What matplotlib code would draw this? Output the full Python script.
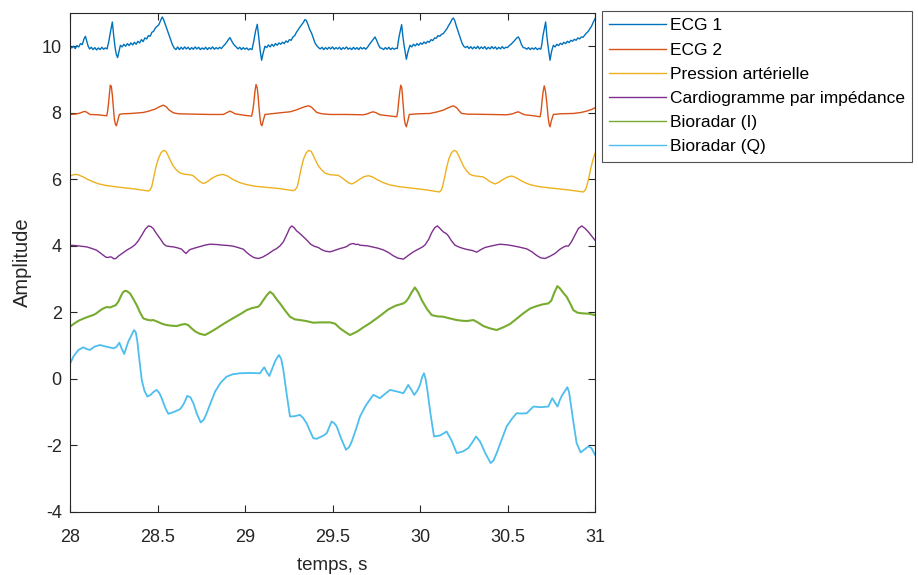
import matplotlib
matplotlib.use("Agg")
import matplotlib.pyplot as plt

plt.rcParams['font.family'] = ['Liberation Sans', 'DejaVu Sans']
plt.rcParams['axes.unicode_minus'] = False

# ---- data (time in s, amplitude) ----
ecg1_t = [28.000, 28.010, 28.020, 28.030, 28.040, 28.050, 28.060, 28.070, 28.080, 28.088, 28.096, 28.104,
          28.112, 28.122, 28.132, 28.142, 28.152, 28.162, 28.172, 28.182, 28.192, 28.202, 28.212, 28.222,
          28.230, 28.242, 28.250, 28.258, 28.265, 28.272, 28.280, 28.288, 28.298, 28.308, 28.318, 28.328,
          28.338, 28.348, 28.358, 28.368, 28.378, 28.388, 28.398, 28.408, 28.418, 28.428, 28.438, 28.448,
          28.458, 28.468, 28.478, 28.488, 28.498, 28.508, 28.518, 28.527, 28.535, 28.545, 28.555, 28.565,
          28.575, 28.585, 28.595, 28.605, 28.615, 28.625, 28.635, 28.645, 28.655, 28.665, 28.675, 28.685,
          28.695, 28.705, 28.715, 28.725, 28.735, 28.745, 28.755, 28.765, 28.775, 28.785, 28.795, 28.805,
          28.815, 28.825, 28.835, 28.845, 28.855, 28.865, 28.875, 28.885, 28.895, 28.905, 28.914, 28.922,
          28.930, 28.940, 28.950, 28.960, 28.970, 28.980, 28.990, 29.000, 29.010, 29.020, 29.030, 29.040,
          29.050, 29.060, 29.070, 29.078, 29.086, 29.095, 29.104, 29.114, 29.124, 29.134, 29.144, 29.154,
          29.164, 29.174, 29.184, 29.194, 29.204, 29.214, 29.224, 29.234, 29.244, 29.254, 29.264, 29.274,
          29.284, 29.294, 29.304, 29.314, 29.324, 29.334, 29.342, 29.350, 29.360, 29.370, 29.380, 29.390,
          29.400, 29.410, 29.420, 29.430, 29.440, 29.450, 29.460, 29.470, 29.480, 29.490, 29.500, 29.510,
          29.520, 29.530, 29.540, 29.550, 29.560, 29.570, 29.580, 29.590, 29.600, 29.610, 29.620, 29.630,
          29.640, 29.650, 29.660, 29.670, 29.680, 29.690, 29.700, 29.710, 29.720, 29.732, 29.743, 29.752,
          29.762, 29.772, 29.782, 29.792, 29.802, 29.812, 29.822, 29.832, 29.842, 29.852, 29.862, 29.870,
          29.876, 29.882, 29.895, 29.902, 29.909, 29.916, 29.922, 29.932, 29.943, 29.953, 29.963, 29.973,
          29.983, 29.993, 30.003, 30.013, 30.023, 30.033, 30.043, 30.053, 30.063, 30.073, 30.083, 30.093,
          30.103, 30.113, 30.123, 30.133, 30.143, 30.153, 30.163, 30.173, 30.182, 30.190, 30.198, 30.208,
          30.219, 30.230, 30.240, 30.250, 30.260, 30.270, 30.280, 30.290, 30.300, 30.310, 30.320, 30.330,
          30.340, 30.350, 30.360, 30.370, 30.380, 30.390, 30.400, 30.410, 30.420, 30.430, 30.440, 30.450,
          30.460, 30.470, 30.480, 30.490, 30.500, 30.510, 30.520, 30.533, 30.545, 30.555, 30.562, 30.570,
          30.580, 30.590, 30.600, 30.610, 30.620, 30.630, 30.640, 30.650, 30.660, 30.670, 30.680, 30.690,
          30.696, 30.703, 30.718, 30.725, 30.731, 30.737, 30.743, 30.752, 30.762, 30.772, 30.782, 30.792,
          30.802, 30.812, 30.822, 30.832, 30.842, 30.852, 30.862, 30.872, 30.882, 30.892, 30.902, 30.912,
          30.922, 30.932, 30.942, 30.952, 30.962, 30.971, 30.980, 30.990, 31.000]
ecg1_v = [9.98, 9.95, 10.00, 9.93, 10.02, 9.98, 10.08, 10.05, 10.22, 10.30, 10.15, 10.00,
          9.92, 9.97, 9.90, 9.96, 9.89, 9.95, 9.90, 9.97, 9.91, 9.95, 9.92, 10.15,
          10.40, 10.73, 10.30, 9.95, 9.75, 9.66, 9.85, 10.03, 9.98, 10.06, 10.00, 10.08,
          10.02, 10.10, 10.04, 10.12, 10.06, 10.15, 10.10, 10.20, 10.14, 10.25, 10.22, 10.32,
          10.30, 10.42, 10.45, 10.55, 10.60, 10.65, 10.78, 10.88, 10.80, 10.65, 10.50, 10.35,
          10.20, 10.05, 9.95, 9.90, 9.98, 9.90, 9.97, 9.91, 9.98, 9.92, 9.97, 9.90,
          9.96, 9.91, 9.98, 9.92, 9.97, 9.90, 9.95, 9.91, 9.97, 9.90, 9.96, 9.92,
          9.98, 9.91, 9.96, 9.92, 9.97, 9.93, 10.00, 10.05, 10.12, 10.20, 10.26, 10.18,
          10.10, 10.03, 9.98, 9.92, 9.97, 9.90, 9.96, 9.91, 9.95, 9.89, 9.93, 9.90,
          10.15, 10.45, 10.66, 10.30, 9.90, 9.58, 9.80, 10.00, 9.96, 10.04, 9.98, 10.06,
          10.00, 10.08, 10.03, 10.10, 10.06, 10.12, 10.08, 10.16, 10.12, 10.20, 10.18, 10.28,
          10.32, 10.42, 10.50, 10.58, 10.65, 10.72, 10.80, 10.78, 10.65, 10.50, 10.40, 10.25,
          10.10, 10.02, 9.96, 9.92, 9.97, 9.90, 9.96, 9.91, 9.97, 9.92, 9.98, 9.91,
          9.96, 9.92, 9.97, 9.90, 9.96, 9.92, 9.98, 9.91, 9.95, 9.90, 9.97, 9.91,
          9.96, 9.90, 9.97, 9.92, 9.96, 9.91, 9.97, 10.05, 10.12, 10.20, 10.28, 10.18,
          10.05, 9.95, 9.94, 9.90, 9.96, 9.91, 9.97, 9.90, 9.95, 9.91, 9.94, 9.93,
          10.15, 10.33, 10.65, 10.30, 10.03, 9.80, 9.61, 9.85, 10.03, 9.98, 10.06, 10.01,
          10.08, 10.03, 10.10, 10.06, 10.13, 10.08, 10.15, 10.12, 10.20, 10.17, 10.25, 10.24,
          10.32, 10.30, 10.36, 10.38, 10.45, 10.52, 10.62, 10.70, 10.80, 10.85, 10.78, 10.60,
          10.43, 10.25, 10.10, 10.00, 9.96, 10.00, 9.93, 9.99, 9.92, 9.98, 9.93, 10.00,
          9.92, 9.98, 9.93, 9.99, 9.91, 9.97, 9.92, 9.99, 9.93, 9.98, 9.91, 9.97,
          9.92, 9.99, 9.93, 9.97, 9.96, 10.02, 10.06, 10.13, 10.20, 10.26, 10.28, 10.20,
          10.05, 9.96, 9.95, 9.91, 9.96, 9.90, 9.95, 9.91, 9.96, 9.90, 9.94, 9.91,
          10.05, 10.33, 10.73, 10.30, 10.03, 9.80, 9.58, 9.85, 10.03, 9.98, 10.06, 10.02,
          10.09, 10.05, 10.12, 10.08, 10.15, 10.11, 10.18, 10.15, 10.21, 10.18, 10.25, 10.22,
          10.28, 10.27, 10.34, 10.40, 10.45, 10.53, 10.60, 10.72, 10.83]

ecg2_t = [28.0, 28.030, 28.048, 28.062, 28.075, 28.086, 28.098, 28.114, 28.160, 28.210, 28.215, 28.219,
          28.225, 28.230, 28.236, 28.242, 28.248, 28.253, 28.259, 28.265, 28.272, 28.282, 28.300, 28.350,
          28.419, 28.450, 28.486, 28.510, 28.533, 28.550, 28.565, 28.590, 28.620, 28.700, 28.800, 28.876,
          28.895, 28.914, 28.930, 28.943, 28.990, 29.038, 29.045, 29.051, 29.057, 29.063, 29.070, 29.076,
          29.081, 29.086, 29.091, 29.097, 29.105, 29.114, 29.150, 29.200, 29.257, 29.290, 29.314, 29.340,
          29.362, 29.380, 29.395, 29.410, 29.440, 29.486, 29.580, 29.676, 29.700, 29.718, 29.733, 29.750,
          29.771, 29.820, 29.867, 29.873, 29.878, 29.884, 29.890, 29.896, 29.901, 29.906, 29.910, 29.916,
          29.922, 29.930, 29.939, 29.990, 30.057, 30.100, 30.133, 30.165, 30.190, 30.210, 30.225, 30.238,
          30.270, 30.400, 30.495, 30.530, 30.548, 30.562, 30.580, 30.600, 30.650, 30.686, 30.692, 30.697,
          30.703, 30.710, 30.717, 30.724, 30.729, 30.733, 30.738, 30.743, 30.750, 30.762, 30.800, 30.876,
          30.920, 30.952, 30.980, 31.0]
ecg2_v = [7.95, 7.96, 7.98, 8.00, 8.03, 8.04, 8.01, 7.95, 7.94, 7.91, 8.05, 8.23,
          8.55, 8.83, 8.80, 8.53, 8.15, 7.83, 7.66, 7.61, 7.75, 7.95, 7.97, 7.98,
          8.01, 8.05, 8.11, 8.18, 8.23, 8.18, 8.09, 8.00, 7.97, 7.96, 7.95, 7.95,
          8.00, 8.05, 8.01, 7.97, 7.93, 7.90, 8.08, 8.33, 8.65, 8.85, 8.75, 8.43,
          8.10, 7.83, 7.66, 7.61, 7.78, 7.95, 7.97, 8.00, 8.03, 8.08, 8.13, 8.18,
          8.21, 8.17, 8.09, 8.01, 7.97, 7.95, 7.95, 7.94, 7.97, 8.01, 8.03, 8.00,
          7.94, 7.91, 7.88, 8.05, 8.33, 8.62, 8.83, 8.75, 8.43, 8.10, 7.83, 7.65,
          7.58, 7.75, 7.95, 7.97, 7.98, 8.03, 8.08, 8.16, 8.21, 8.15, 8.05, 7.98,
          7.96, 7.95, 7.94, 7.97, 8.01, 8.03, 7.98, 7.94, 7.91, 7.88, 8.05, 8.33,
          8.62, 8.81, 8.65, 8.33, 8.05, 7.83, 7.65, 7.58, 7.75, 7.95, 7.97, 7.98,
          8.01, 8.05, 8.10, 8.15]

bp_t = [28.0, 28.020, 28.035, 28.050, 28.076, 28.100, 28.130, 28.160, 28.200, 28.286, 28.370, 28.448,
        28.458, 28.467, 28.478, 28.490, 28.505, 28.520, 28.535, 28.548, 28.560, 28.575, 28.590, 28.610,
        28.630, 28.657, 28.680, 28.700, 28.715, 28.735, 28.755, 28.767, 28.785, 28.810, 28.840, 28.872,
        28.900, 28.933, 28.970, 29.010, 29.060, 29.120, 29.200, 29.276, 29.286, 29.299, 29.310, 29.322,
        29.335, 29.350, 29.365, 29.378, 29.390, 29.405, 29.420, 29.440, 29.460, 29.486, 29.510, 29.533,
        29.550, 29.571, 29.590, 29.610, 29.630, 29.657, 29.680, 29.705, 29.730, 29.752, 29.790, 29.829,
        29.880, 29.962, 30.040, 30.110, 30.120, 30.129, 30.140, 30.152, 30.165, 30.180, 30.195, 30.208,
        30.220, 30.235, 30.250, 30.267, 30.285, 30.305, 30.335, 30.362, 30.380, 30.400, 30.429, 30.450,
        30.476, 30.500, 30.524, 30.550, 30.571, 30.600, 30.629, 30.680, 30.762, 30.850, 30.933, 30.945,
        30.952, 30.965, 30.978, 30.990, 31.0]
bp_v = [6.10, 6.14, 6.15, 6.13, 6.07, 6.00, 5.93, 5.87, 5.82, 5.76, 5.71, 5.65,
        5.68, 5.78, 6.05, 6.35, 6.62, 6.80, 6.87, 6.84, 6.72, 6.55, 6.40, 6.27,
        6.19, 6.15, 6.14, 6.12, 6.06, 5.96, 5.89, 5.88, 5.93, 6.03, 6.11, 6.15,
        6.10, 5.99, 5.90, 5.84, 5.79, 5.76, 5.72, 5.66, 5.68, 5.78, 6.05, 6.35,
        6.62, 6.80, 6.87, 6.84, 6.72, 6.55, 6.40, 6.27, 6.18, 6.14, 6.13, 6.12,
        6.06, 5.98, 5.90, 5.86, 5.91, 6.01, 6.08, 6.11, 6.07, 6.00, 5.90, 5.83,
        5.78, 5.73, 5.68, 5.62, 5.66, 5.78, 6.05, 6.35, 6.62, 6.80, 6.87, 6.84,
        6.72, 6.55, 6.38, 6.25, 6.15, 6.11, 6.09, 6.07, 6.01, 5.93, 5.86, 5.91,
        6.00, 6.07, 6.10, 6.05, 5.98, 5.90, 5.84, 5.78, 5.73, 5.68, 5.62, 5.68,
        5.78, 6.05, 6.38, 6.62, 6.78]

icg_t = [28.0, 28.030, 28.060, 28.095, 28.120, 28.152, 28.170, 28.190, 28.205, 28.219, 28.230, 28.238,
         28.251, 28.262, 28.276, 28.300, 28.324, 28.350, 28.371, 28.390, 28.410, 28.430, 28.448, 28.462,
         28.476, 28.490, 28.505, 28.520, 28.535, 28.549, 28.570, 28.590, 28.615, 28.638, 28.652, 28.663,
         28.675, 28.686, 28.710, 28.743, 28.770, 28.800, 28.840, 28.876, 28.905, 28.933, 28.960, 28.990,
         29.010, 29.029, 29.050, 29.076, 29.100, 29.133, 29.160, 29.181, 29.200, 29.219, 29.240, 29.255,
         29.267, 29.280, 29.295, 29.305, 29.320, 29.336, 29.352, 29.375, 29.395, 29.419, 29.440, 29.460,
         29.486, 29.510, 29.543, 29.565, 29.581, 29.600, 29.619, 29.635, 29.645, 29.657, 29.700, 29.733,
         29.760, 29.790, 29.820, 29.848, 29.875, 29.905, 29.935, 29.962, 29.990, 30.015, 30.029, 30.050,
         30.067, 30.085, 30.099, 30.115, 30.133, 30.150, 30.162, 30.180, 30.200, 30.225, 30.248, 30.270,
         30.300, 30.324, 30.345, 30.371, 30.410, 30.457, 30.500, 30.533, 30.570, 30.610, 30.640, 30.667,
         30.690, 30.714, 30.740, 30.771, 30.800, 30.819, 30.835, 30.848, 30.865, 30.886, 30.905, 30.924,
         30.942, 30.962, 30.980, 31.0]
icg_v = [4.02, 4.01, 3.99, 3.97, 3.93, 3.87, 3.80, 3.72, 3.66, 3.65, 3.67, 3.66,
         3.61, 3.62, 3.69, 3.78, 3.87, 3.95, 4.03, 4.15, 4.32, 4.50, 4.60, 4.58,
         4.52, 4.40, 4.29, 4.18, 4.06, 4.00, 3.98, 3.97, 3.94, 3.90, 3.82, 3.77,
         3.84, 3.89, 3.93, 3.98, 4.02, 4.05, 4.04, 4.02, 4.01, 3.99, 3.95, 3.90,
         3.80, 3.72, 3.65, 3.62, 3.66, 3.76, 3.86, 3.92, 4.00, 4.12, 4.35, 4.53,
         4.60, 4.55, 4.45, 4.41, 4.34, 4.26, 4.18, 4.05, 3.99, 3.95, 3.88, 3.84,
         3.82, 3.86, 3.92, 3.95, 3.98, 4.05, 4.07, 4.04, 4.05, 4.02, 4.00, 3.96,
         3.93, 3.88, 3.80, 3.70, 3.63, 3.60, 3.72, 3.82, 3.90, 3.97, 4.03, 4.20,
         4.40, 4.55, 4.60, 4.52, 4.42, 4.37, 4.30, 4.15, 4.02, 3.96, 3.92, 3.89,
         3.86, 3.81, 3.88, 3.95, 4.00, 4.05, 4.03, 4.00, 3.96, 3.91, 3.82, 3.71,
         3.64, 3.62, 3.68, 3.77, 3.90, 3.96, 4.00, 3.99, 4.12, 4.33, 4.52, 4.60,
         4.53, 4.42, 4.30, 4.17]

bri_t = [28.0, 28.020, 28.040, 28.057, 28.080, 28.100, 28.120, 28.133, 28.150, 28.170, 28.190, 28.210,
         28.230, 28.248, 28.262, 28.276, 28.290, 28.302, 28.314, 28.325, 28.343, 28.360, 28.381, 28.400,
         28.419, 28.440, 28.460, 28.476, 28.500, 28.525, 28.552, 28.580, 28.610, 28.635, 28.657, 28.675,
         28.695, 28.715, 28.740, 28.771, 28.800, 28.838, 28.870, 28.914, 28.950, 28.980, 29.010, 29.040,
         29.076, 29.090, 29.105, 29.125, 29.143, 29.160, 29.180, 29.200, 29.230, 29.257, 29.285, 29.314,
         29.350, 29.390, 29.430, 29.486, 29.515, 29.543, 29.570, 29.600, 29.640, 29.676, 29.715, 29.752,
         29.785, 29.819, 29.860, 29.905, 29.920, 29.933, 29.952, 29.971, 29.990, 30.010, 30.040, 30.067,
         30.100, 30.133, 30.170, 30.210, 30.240, 30.267, 30.305, 30.330, 30.362, 30.400, 30.438, 30.475,
         30.514, 30.550, 30.590, 30.630, 30.667, 30.700, 30.733, 30.750, 30.768, 30.785, 30.800, 30.820,
         30.838, 30.860, 30.876, 30.900, 30.933, 30.965, 31.0]
bri_v = [1.57, 1.65, 1.72, 1.77, 1.82, 1.86, 1.90, 1.92, 1.97, 2.05, 2.12, 2.16,
         2.15, 2.19, 2.22, 2.32, 2.48, 2.60, 2.65, 2.64, 2.57, 2.42, 2.22, 2.00,
         1.82, 1.78, 1.76, 1.77, 1.72, 1.66, 1.62, 1.60, 1.59, 1.63, 1.65, 1.62,
         1.52, 1.43, 1.36, 1.32, 1.40, 1.52, 1.63, 1.77, 1.88, 1.97, 2.07, 2.13,
         2.17, 2.25, 2.37, 2.52, 2.62, 2.55, 2.40, 2.27, 2.05, 1.87, 1.79, 1.77,
         1.74, 1.69, 1.70, 1.70, 1.66, 1.52, 1.42, 1.32, 1.42, 1.55, 1.68, 1.82,
         1.95, 2.09, 2.20, 2.27, 2.33, 2.42, 2.60, 2.75, 2.60, 2.37, 2.10, 1.92,
         1.88, 1.87, 1.82, 1.77, 1.75, 1.74, 1.77, 1.70, 1.59, 1.52, 1.47, 1.55,
         1.65, 1.80, 1.97, 2.12, 2.19, 2.24, 2.27, 2.35, 2.60, 2.79, 2.72, 2.58,
         2.47, 2.25, 2.07, 1.99, 1.97, 1.96, 1.92]

brq_t = [28.0, 28.020, 28.048, 28.076, 28.095, 28.114, 28.140, 28.171, 28.200, 28.225, 28.248, 28.265,
         28.282, 28.296, 28.310, 28.322, 28.333, 28.350, 28.366, 28.376, 28.385, 28.397, 28.410, 28.425,
         28.442, 28.460, 28.480, 28.495, 28.510, 28.524, 28.543, 28.562, 28.590, 28.615, 28.629, 28.650,
         28.670, 28.688, 28.705, 28.725, 28.747, 28.765, 28.781, 28.805, 28.829, 28.860, 28.895, 28.930,
         28.971, 29.030, 29.086, 29.100, 29.110, 29.125, 29.139, 29.155, 29.171, 29.185, 29.194, 29.207,
         29.219, 29.238, 29.257, 29.285, 29.314, 29.333, 29.352, 29.370, 29.390, 29.410, 29.429, 29.450,
         29.467, 29.495, 29.510, 29.524, 29.550, 29.577, 29.595, 29.610, 29.635, 29.657, 29.690, 29.733,
         29.750, 29.771, 29.800, 29.829, 29.870, 29.905, 29.920, 29.933, 29.950, 29.967, 29.985, 30.000,
         30.012, 30.023, 30.032, 30.042, 30.060, 30.080, 30.115, 30.152, 30.180, 30.210, 30.245, 30.276,
         30.300, 30.320, 30.343, 30.375, 30.404, 30.420, 30.438, 30.465, 30.495, 30.525, 30.552, 30.580,
         30.610, 30.648, 30.690, 30.733, 30.745, 30.756, 30.770, 30.786, 30.798, 30.810, 30.826, 30.842,
         30.852, 30.861, 30.878, 30.895, 30.918, 30.940, 30.962, 30.980, 31.0]
brq_v = [0.45, 0.68, 0.87, 0.95, 0.90, 0.87, 0.97, 1.02, 0.98, 0.95, 0.92, 0.96,
         1.09, 0.90, 0.75, 0.95, 1.12, 1.30, 1.47, 1.40, 1.12, 0.55, -0.03, -0.35,
         -0.53, -0.48, -0.38, -0.33, -0.42, -0.58, -0.85, -1.05, -1.00, -0.94, -0.91, -0.75,
         -0.51, -0.55, -0.73, -1.05, -1.31, -1.22, -1.03, -0.70, -0.38, -0.12, 0.07, 0.14,
         0.17, 0.18, 0.17, 0.28, 0.35, 0.20, 0.09, 0.30, 0.52, 0.65, 0.72, 0.60,
         0.27, -0.45, -1.13, -1.12, -1.08, -1.18, -1.33, -1.55, -1.78, -1.80, -1.75, -1.70,
         -1.63, -1.28, -1.33, -1.43, -1.80, -2.13, -2.05, -1.88, -1.50, -1.13, -0.80, -0.48,
         -0.52, -0.58, -0.45, -0.33, -0.38, -0.43, -0.30, -0.18, -0.32, -0.48, -0.35, -0.18,
         0.05, 0.17, 0.00, -0.33, -1.05, -1.73, -1.70, -1.58, -1.85, -2.23, -2.18, -2.08,
         -1.90, -1.73, -1.88, -2.25, -2.53, -2.45, -2.23, -1.85, -1.43, -1.20, -1.03, -1.04,
         -1.03, -0.83, -0.85, -0.83, -0.70, -0.58, -0.70, -0.83, -0.65, -0.51, -0.38, -0.25,
         -0.40, -0.73, -1.35, -1.93, -2.21, -2.12, -2.03, -2.08, -2.28]

labels = ['ECG 1', 'ECG 2', 'Pression artérielle', 'Cardiogramme par impédance',
          'Bioradar (I)', 'Bioradar (Q)']
xticks = [28, 28.5, 29, 29.5, 30, 30.5, 31]
xticklabels = ['28', '28.5', '29', '29.5', '30', '30.5', '31']
yticks = [-4, -2, 0, 2, 4, 6, 8, 10]

colors = ['#0072BD', '#D95319', '#EDB120', '#7E2F8E', '#77AC30', '#4DBEEE']
widths = [1.0, 1.0, 1.0, 1.0, 1.5, 1.3]

fig = plt.figure(figsize=(9.18, 5.75), dpi=100)
ax = fig.add_axes([70/918, 1 - 512/575, 525/918, 499/575])

series = [(ecg1_t, ecg1_v), (ecg2_t, ecg2_v), (bp_t, bp_v), (icg_t, icg_v), (bri_t, bri_v), (brq_t, brq_v)]
for (t, v), c, lab, w in zip(series, colors, labels, widths):
    ax.plot(t, v, color=c, lw=w, label=lab)

ax.set_xlim(28, 31)
ax.set_ylim(-4, 11)
ax.set_xticks(xticks)
ax.set_xticklabels(xticklabels)
ax.set_yticks(yticks)
ax.tick_params(axis='both', direction='in', length=5, width=0.8, top=True, right=True,
               labelsize=13, colors='#262626')
ax.tick_params(axis='x', pad=12)
ax.tick_params(axis='y', pad=6)
for s in ax.spines.values():
    s.set_color('#262626')
    s.set_linewidth(0.8)
ax.set_xlabel('temps, s', fontsize=13.5, color='#262626', labelpad=8)
ax.set_ylabel('Amplitude', fontsize=14.5, color='#262626', labelpad=7)

leg = ax.legend(loc='upper left', bbox_to_anchor=(602/918, 1 - 11/575), bbox_transform=fig.transFigure,
                fontsize=12.5, frameon=True, fancybox=False, handlelength=3.25, handletextpad=0.22,
                labelspacing=0.52, borderpad=0.42, borderaxespad=0)
leg.get_frame().set_edgecolor('#262626')
leg.get_frame().set_linewidth(0.8)
for line in leg.get_lines():
    line.set_linewidth(1.0)

fig.savefig('out.png', dpi=100)
